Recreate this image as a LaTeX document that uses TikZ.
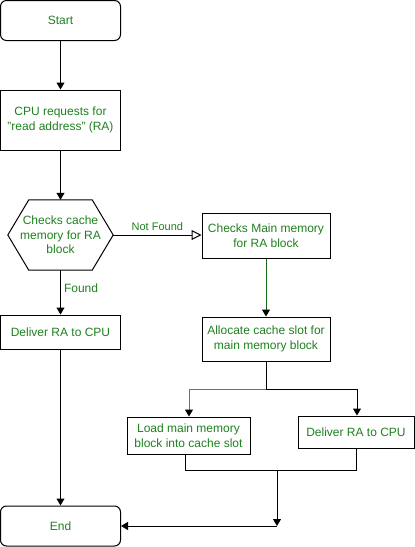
\documentclass[tikz,border=0pt]{standalone}
\usepackage{fontspec}
\setmainfont{Liberation Sans}
\usetikzlibrary{arrows.meta}
\definecolor{txtgreen}{RGB}{30,128,30}
\definecolor{lgray}{RGB}{110,110,110}
\begin{document}
\begin{tikzpicture}[x=1pt,y=-1pt,
  every node/.style={font=\fontsize{12}{14.5}\selectfont, text=txtgreen, align=center, inner sep=0pt},
  term/.style={draw=black, line width=1pt, rounded corners=6pt, minimum width=120pt, minimum height=40pt},
  hexbox/.style={minimum width=105pt, minimum height=70pt},
  lbl/.style={font=\fontsize{11}{13}\selectfont},
  lblb/.style={font=\fontsize{12}{14}\selectfont},
  arr/.style={draw=black, line width=1pt, -{Triangle[length=7pt,width=8pt,color=black]}},
  line/.style={draw=black, line width=1pt}
]
\useasboundingbox (0,0) rectangle (415,547);
\node[term] (start) at (60.5,20.5) {Start};
\node[draw, line width=1pt, minimum width=120pt, minimum height=60pt] (cpu) at (60.5,120) {CPU requests for\\"read address" (RA)};
\node[hexbox] (chk) at (60.5,235) {Checks cache\\memory for RA\\block};
\draw[line] (chk.west) -- ([xshift=21pt]chk.north west) -- ([xshift=-21pt]chk.north east) -- (chk.east) -- ([xshift=-21pt]chk.south east) -- ([xshift=21pt]chk.south west) -- cycle;
\node[draw, line width=1pt, minimum width=120pt, minimum height=34pt] (del1) at (60.5,332) {Deliver RA to CPU};
\node[term] (endn) at (60.5,526) {End};
\node[draw, line width=1pt, minimum width=128pt, minimum height=45pt] (cmm) at (266,235.5) {Checks Main memory\\for RA block};
\node[draw, line width=1pt, minimum width=128pt, minimum height=44pt] (alloc) at (266,339) {Allocate cache slot for\\main memory block};
\node[draw, line width=1pt, minimum width=123pt, minimum height=37pt] (load) at (188.5,435.5) {Load main memory\\block into cache slot};
\node[draw, line width=1pt, minimum width=116pt, minimum height=32pt] (del2) at (356,432) {Deliver RA to CPU};
\coordinate (split) at (266,389);
\coordinate (join) at (277,470);
\coordinate (drop) at (277,526);

\draw[arr] (start) -- (cpu);
\draw[arr] (cpu) -- (chk.north);
\draw[line, -{Triangle[open, fill=white, length=10pt, width=10pt]}] (chk.east) -- node[lbl, above=4pt] {Not Found} (cmm.west |- chk.east);
\draw[arr] (chk.south) -- node[lblb, right=3pt, pos=0.4] {Found} (del1.north);
\draw[arr, draw=txtgreen!80!black] (cmm) -- (alloc);
\draw[line] (alloc.south) -- (split);
\draw[arr] (split) -| (del2.north -| 357,0);
\draw[arr, draw=lgray] (split) -| (load.north -| 189,0);
\draw[line] (load.south -| 185,0) |- (join);
\draw[line] (del2.south -| 356,0) |- (join);
\draw[arr] (join) -- (drop);
\draw[arr] (drop) -- (endn.east);
\draw[arr] (del1) -- (endn);
\end{tikzpicture}
\end{document}
